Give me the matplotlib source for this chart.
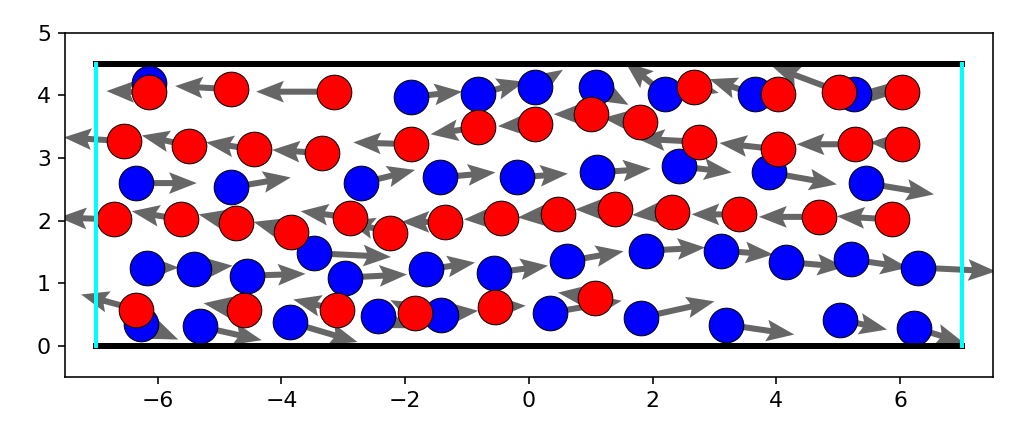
import matplotlib
matplotlib.use("Agg")
import matplotlib.pyplot as plt
import numpy as np

# blue particles: position and velocity
blue_x = [-6.15, -1.9, -0.82, 0.1, 1.08, 2.2, 3.65, 5.25,
          -6.35, -4.82, -2.71, -1.44, -0.19, 1.1, 2.43, 3.88, 5.45,
          -6.18, -5.42, -4.56, -3.47, -2.97, -1.66, -0.56, 0.61, 1.9, 3.1, 4.16, 5.21, 6.29,
          -6.27, -5.32, -3.87, -2.44, -1.42, 0.34, 1.81, 3.19, 5.03, 6.23]
blue_y = [4.2, 3.98, 4.02, 4.13, 4.14, 4.02, 4.02, 4.02,
          2.6, 2.53, 2.6, 2.69, 2.69, 2.77, 2.87, 2.77, 2.6,
          1.25, 1.22, 1.12, 1.48, 1.09, 1.22, 1.17, 1.35, 1.52, 1.52, 1.34, 1.38, 1.25,
          0.35, 0.31, 0.38, 0.48, 0.5, 0.53, 0.45, 0.34, 0.42, 0.29]
blue_u = [0.3, 0.82, 0.75, 0.45, 0.53, -0.64, -0.73, 0.55,
          0.98, 0.97, 0.87, 0.9, 0.82, 0.87, 0.85, 1.1, 1.1,
          0.52, 0.63, 0.95, 1.24, 1.0, 0.79, 0.87, 0.92, 0.95, 0.85, 0.95, 0.92, 1.26,
          0.6, 1.0, 1.1, 0.5, 0.6, 1.16, 1.19, 1.1, 0.76, 0.8]
blue_v = [0.0, 0.08, 0.2, 0.28, -0.29, 0.51, 0.24, -0.03,
          0.0, 0.16, 0.21, 0.08, 0.06, 0.06, -0.1, -0.19, -0.18,
          0.0, 0.06, 0.03, -0.06, 0.05, 0.11, 0.11, 0.16, 0.05, -0.06, -0.08, -0.13, -0.06,
          -0.25, -0.22, -0.32, -0.2, 0.06, 0.19, 0.26, -0.16, -0.16, -0.24]

# red particles: position and velocity
red_x = [-6.15, -4.82, -3.15, 2.67, 4.02, 5.02, 6.03,
         -6.55, -5.5, -4.45, -3.35, -1.9, -0.82, 0.1, 1.0, 1.8, 2.75, 4.02, 5.27, 6.03,
         -6.7, -5.63, -4.73, -3.84, -2.89, -2.24, -1.36, -0.45, 0.47, 1.4, 2.32, 3.4, 4.69, 5.87,
         -6.35, -4.6, -3.11, -1.84, -0.55, 1.07]
red_y = [4.05, 4.1, 4.06, 4.14, 4.02, 4.06, 4.06,
         3.27, 3.2, 3.14, 3.08, 3.22, 3.49, 3.54, 3.7, 3.58, 3.26, 3.14, 3.22, 3.22,
         2.02, 2.02, 1.97, 1.82, 2.05, 1.8, 1.98, 2.05, 2.1, 2.18, 2.14, 2.1, 2.06, 2.02,
         0.58, 0.58, 0.58, 0.53, 0.62, 0.77]
red_u = [-0.68, -0.9, -1.26, 0.4, -0.4, -1.08, -0.5,
         -0.97, -0.76, -0.77, -0.8, -0.94, -0.77, -0.6, -0.6, -0.6, -1.0, -0.94, -0.94, -0.52,
         -0.9, -0.79, -0.61, -0.61, -0.8, -0.7, -0.7, -0.6, -0.65, -0.65, -0.65, -0.77, -0.97, -0.89,
         -0.89, -0.66, -0.7, -0.4, 0.5, -0.6]
red_v = [0.02, 0.05, 0.0, -0.1, 0.1, 0.4, 0.05,
         0.06, 0.16, 0.11, 0.05, 0.03, -0.11, -0.03, 0.0, 0.06, 0.05, 0.1, 0.0, 0.03,
         0.03, 0.13, 0.13, 0.16, 0.1, 0.2, 0.0, -0.03, -0.05, 0.0, -0.05, 0.0, 0.0, 0.05,
         0.24, 0.1, 0.16, 0.2, 0.02, 0.08]

# box walls
wall_x = [-7, 7]
wall_y = [0, 4.5]

plt.rcParams['font.size'] = 11
fig = plt.figure(figsize=(1032 / 144, 438 / 144), dpi=144)
ax = fig.add_axes([0.063, 0.139, 0.899, 0.786])

all_x = blue_x + red_x
all_y = blue_y + red_y
all_u = blue_u + red_u
all_v = blue_v + red_v
ax.quiver(all_x, all_y, all_u, all_v, angles='xy', scale_units='xy', scale=1,
          color='#555555', alpha=0.9, width=0.0065, headwidth=3.6, headlength=4.6,
          headaxislength=4, zorder=1)

ms = 300
ax.scatter(blue_x, blue_y, s=ms, c='blue', edgecolors='black', linewidths=0.5, zorder=2)
ax.scatter(red_x, red_y, s=ms, c='red', edgecolors='black', linewidths=0.5, zorder=3)

ax.plot(wall_x, [wall_y[0], wall_y[0]], color='black', lw=3, zorder=4)
ax.plot(wall_x, [wall_y[1], wall_y[1]], color='black', lw=3, zorder=4)
ax.plot([wall_x[0], wall_x[0]], wall_y, color='cyan', lw=2, zorder=4)
ax.plot([wall_x[1], wall_x[1]], wall_y, color='cyan', lw=2, zorder=4)

ax.set_xlim(-7.5, 7.5)
ax.set_ylim(-0.5, 5)
ax.set_xticks([-6, -4, -2, 0, 2, 4, 6])
ax.set_yticks([0, 1, 2, 3, 4, 5])

fig.savefig("out.png", dpi=144)
